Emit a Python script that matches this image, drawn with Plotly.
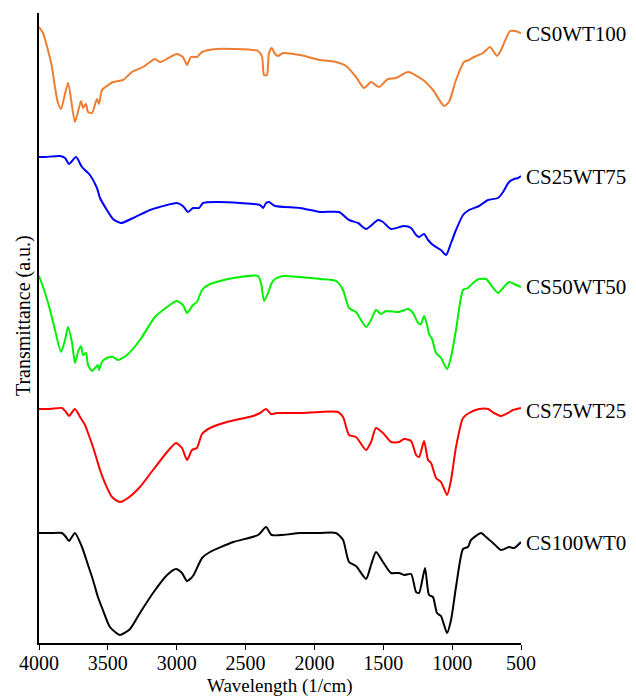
import plotly.graph_objects as go

# FTIR spectra of CS/WT blends, stacked with vertical offsets (arbitrary units)

wn_cs0wt100 = [4000, 3971, 3935, 3906, 3884, 3862, 3840, 3789, 3739, 3695, 3680, 3659, 3644, 3615,
               3579, 3564, 3543, 3507, 3463, 3390, 3325, 3245, 3158, 3121, 3000, 2955, 2925, 2897,
               2853, 2816, 2707, 2589, 2409, 2380, 2366, 2345, 2330, 2310, 2286, 2264, 2228, 2105,
               1960, 1843, 1770, 1698, 1640, 1589, 1531, 1466, 1407, 1320, 1211, 1139, 1059, 1023,
               972, 914, 877, 841, 776, 725, 674, 645, 580, 543, 500]
t_cs0wt100 = [616, 610, 593, 576, 556, 540, 534, 560, 521, 542, 535, 539, 531, 530,
              544, 539, 553, 557, 561, 563, 571, 576, 584, 581, 589, 586, 578, 586,
              586, 591, 594, 594, 592, 586, 568, 568, 590, 595, 589, 587, 590, 588,
              583, 581, 577, 566, 555, 561, 556, 564, 565, 571, 563, 553, 537, 541,
              563, 581, 583, 586, 590, 596, 587, 593, 612, 612, 610]

wn_cs25wt75 = [4000, 3956, 3847, 3811, 3782, 3731, 3688, 3630, 3579, 3557, 3507, 3463, 3405, 3317,
               3194, 3070, 3000, 2955, 2918, 2882, 2838, 2809, 2707, 2540, 2395, 2373, 2351, 2330,
               2286, 2105, 1960, 1821, 1749, 1683, 1625, 1538, 1502, 1444, 1349, 1298, 1262, 1240,
               1204, 1175, 1139, 1081, 1044, 1008, 972, 921, 877, 805, 739, 667, 630, 587, 550,
               521, 500]
t_cs25wt75 = [486, 486, 487, 485, 479, 486, 476, 468, 455, 445, 433, 424, 420, 425,
              433, 438, 440, 437, 431, 435, 435, 440, 441, 440, 438, 435, 440, 441,
              437, 435, 431, 431, 423, 420, 414, 423, 421, 414, 417, 415, 408, 406,
              409, 403, 398, 393, 388, 400, 413, 428, 433, 437, 443, 445, 451, 461, 464,
              465, 467]

wn_cs50wt50 = [4000, 3970, 3920, 3884, 3840, 3811, 3789, 3760, 3739, 3717, 3695, 3680, 3659, 3644,
               3615, 3593, 3572, 3564, 3543, 3507, 3463, 3426, 3361, 3267, 3158, 3070, 3000, 2955,
               2925, 2882, 2853, 2816, 2758, 2589, 2409, 2388, 2366, 2337, 2310, 2286, 2228, 1960,
               1843, 1792, 1749, 1698, 1662, 1625, 1589, 1553, 1516, 1480, 1386, 1320, 1284, 1247,
               1226, 1204, 1182, 1168, 1146, 1117, 1081, 1037, 1008, 972, 921, 885, 848, 805, 754,
               718, 667, 630, 587, 550, 500]
t_cs50wt50 = [367, 356, 333, 313, 291, 303, 316, 300, 280, 291, 297, 288, 290, 278,
              272, 275, 278, 273, 281, 285, 286, 283, 288, 303, 326, 336, 342, 338,
              330, 338, 341, 353, 359, 365, 367, 360, 342, 350, 360, 364, 367, 364,
              362, 353, 335, 331, 323, 316, 323, 333, 329, 332, 331, 334, 330, 320,
              319, 327, 318, 309, 304, 290, 285, 274, 286, 313, 353, 355, 360, 364, 364,
              358, 350, 355, 361, 359, 356]

wn_cs75wt25 = [4000, 3920, 3833, 3804, 3782, 3739, 3702, 3666, 3644, 3608, 3579, 3557, 3521, 3470,
               3412, 3354, 3267, 3172, 3070, 3005, 2962, 2925, 2889, 2853, 2816, 2758, 2635, 2446,
               2395, 2351, 2315, 2272, 2105, 1960, 1829, 1792, 1749, 1698, 1625, 1589, 1553, 1502,
               1444, 1386, 1349, 1298, 1262, 1240, 1204, 1175, 1153, 1117, 1081, 1037, 1008, 972,
               921, 877, 805, 739, 696, 645, 594, 558, 500]
t_cs75wt25 = [234, 234, 235, 231, 227, 234, 226, 218, 210, 196, 183, 173, 160, 146,
              141, 145, 156, 173, 191, 200, 195, 183, 193, 195, 209, 215, 221, 227,
              230, 234, 229, 230, 230, 231, 231, 226, 208, 206, 193, 201, 215, 210,
              201, 201, 204, 202, 188, 186, 202, 183, 180, 165, 161, 148, 163, 196,
              225, 230, 234, 234, 230, 227, 230, 233, 235]

wn_cs100wt0 = [4000, 3920, 3833, 3804, 3782, 3739, 3688, 3644, 3608, 3572, 3536, 3485, 3412, 3339,
               3267, 3172, 3070, 3005, 2962, 2925, 2882, 2816, 2758, 2589, 2409, 2351, 2310, 2105,
               1960, 1843, 1792, 1749, 1698, 1625, 1589, 1553, 1502, 1444, 1386, 1349, 1298, 1262,
               1240, 1197, 1168, 1139, 1110, 1081, 1037, 1008, 972, 921, 885, 863, 790, 754, 703,
               645, 587, 550, 500]
t_cs100wt0 = [110, 110, 110, 106, 102, 110, 96, 78, 63, 46, 33, 16, 8, 14,
              30, 50, 68, 74, 70, 62, 67, 85, 91, 101, 108, 116, 108, 110,
              110, 110, 103, 81, 77, 64, 78, 91, 81, 70, 70, 68, 69, 51,
              50, 75, 48, 46, 30, 27, 10, 23, 56, 94, 96, 103, 110, 106, 100,
              93, 96, 95, 101]

series_names = ["CS0WT100", "CS25WT75", "CS50WT50", "CS75WT25", "CS100WT0"]
series_colors = ["#ED7D31", "#0000FF", "#00F000", "#FF0000", "#000000"]
series_wn = [wn_cs0wt100, wn_cs25wt75, wn_cs50wt50, wn_cs75wt25, wn_cs100wt0]
series_t = [t_cs0wt100, t_cs25wt75, t_cs50wt50, t_cs75wt25, t_cs100wt0]
label_y = [609, 466, 356, 232, 100]

x_ticks = [4000, 3500, 3000, 2500, 2000, 1500, 1000, 500]

font_family = "Liberation Serif"

fig = go.Figure()
for name, color, wn, t in zip(series_names, series_colors, series_wn, series_t):
    fig.add_trace(go.Scatter(
        x=wn, y=t, mode="lines", name=name,
        line=dict(color=color, width=2, shape="spline", smoothing=0.6),
        showlegend=False, hoverinfo="skip",
    ))

for name, ly in zip(series_names, label_y):
    fig.add_annotation(
        x=500, y=ly, xref="x", yref="y", text=name, showarrow=False,
        xanchor="left", yanchor="middle", xshift=3,
        font=dict(family=font_family, size=21, color="black"),
    )

# axis titles placed as paper-anchored text
fig.add_annotation(
    x=0.5, y=-0.0683, xref="paper", yref="paper", text="Wavelength (1/cm)",
    showarrow=False, xanchor="center", yanchor="middle", borderpad=0,
    font=dict(family=font_family, size=19, color="black"),
)
fig.add_annotation(
    x=-0.033, y=0.519, xref="paper", yref="paper", text="Transmittance (a.u.)",
    showarrow=False, xanchor="center", yanchor="middle", textangle=-90,
    font=dict(family=font_family, size=20, color="black"),
)

fig.update_layout(
    width=636, height=697,
    margin=dict(l=39, r=115, t=13, b=54),
    paper_bgcolor="white", plot_bgcolor="white",
    font=dict(family=font_family, size=21, color="black"),
)
fig.update_xaxes(
    range=[4000, 500], tickvals=x_ticks, ticktext=[str(v) for v in x_ticks],
    ticks="outside", ticklen=5, tickwidth=1.2, tickcolor="black",
    ticklabelstandoff=-4,
    showline=True, linecolor="black", linewidth=1.5,
    showgrid=False, zeroline=False, automargin=False,
    tickfont=dict(family=font_family, size=20, color="black"),
)
fig.update_yaxes(
    range=[0, 630], showticklabels=False, ticks="",
    showline=True, linecolor="black", linewidth=1.5,
    showgrid=False, zeroline=False, automargin=False,
)

fig.write_html("out.html")
